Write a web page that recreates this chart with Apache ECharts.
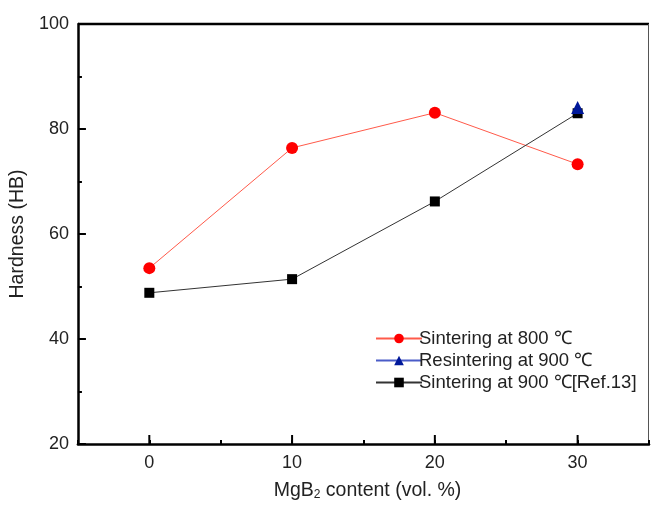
<!DOCTYPE html>
<html><head><meta charset="utf-8">
<script src="https://cdn.jsdelivr.net/npm/echarts@6/dist/echarts.min.js"></script>
<style>html,body{margin:0;padding:0;background:#fff}#c{width:652px;height:506px}</style>
</head><body><div id="c"></div>
<script>
const xValues = [0, 10, 20, 30];
const sint800 = [53.5, 76.4, 83.1, 73.3];
const resint900X = [30];
const resint900 = [84.1];
const sint900Ref = [48.8, 51.4, 66.2, 83.0];
const xMajorTicks = [0, 10, 20, 30];
const seriesNames = ['Sintering at 800 \u2103', 'Resintering at 900 \u2103', 'Sintering at 900 \u2103[Ref.13]'];

const chart = echarts.init(document.getElementById('c'), null, {renderer: 'canvas'});
const font = 'Liberation Sans';
const txt = '#222';
const opt = {
  animation: false,
  backgroundColor: '#fff',
  textStyle: {fontFamily: font},
  grid: {left: 77, right: -2, top: 24, bottom: 58, show: false},
  legend: {
    orient: 'vertical', left: 370, top: 324, itemWidth: 46, itemHeight: 12, itemGap: 3,
    textStyle: {fontFamily: font, fontSize: 18.5, color: txt, padding: [0,0,0,-8]},
    data: seriesNames
  },
  xAxis: {
    type: 'value', min: -5, max: 35, interval: 5,
    name: '{a|MgB}{s|2}{a| content (vol. %)}', nameLocation: 'middle', nameGap: 36,
    nameTextStyle: {padding: [0,0,0,8], rich: {a: {fontFamily: font, fontSize: 19.5, color: txt}, s: {fontFamily: font, fontSize: 12, color: txt, padding: [9,0,0,0]}}},
    axisLine: {show: true, onZero: false, lineStyle: {color: '#000', width: 2.5}},
    axisTick: {show: true, inside: true, length: 4, lineStyle: {color: '#000', width: 2}},
    axisLabel: {fontFamily: font, fontSize: 18, color: txt, margin: 10,
      formatter: v => (xMajorTicks.indexOf(v) >= 0 ? String(v) : '')},
    splitLine: {show: false}
  },
  yAxis: {
    type: 'value', min: 20, max: 100, interval: 20,
    name: 'Hardness (HB)', nameLocation: 'middle', nameGap: 46,
    nameTextStyle: {fontFamily: font, fontSize: 19.5, color: txt},
    axisLine: {show: true, onZero: false, lineStyle: {color: '#000', width: 2.5}},
    axisTick: {show: true, inside: true, length: 8, lineStyle: {color: '#000', width: 2}},
    minorTick: {show: true, splitNumber: 2, length: 4, lineStyle: {color: '#000', width: 2}},
    axisLabel: {fontFamily: font, fontSize: 18, color: txt, margin: 9},
    splitLine: {show: false}
  },
  series: [
    {name: seriesNames[0], type: 'line', data: xValues.map((x, i) => [x, sint800[i]]),
     symbol: 'circle', symbolSize: 12, itemStyle: {color: '#ff0000'},
     lineStyle: {color: '#ff5a4a', width: 1}, z: 3},
    {name: seriesNames[1], type: 'line', data: resint900X.map((x, i) => [x, resint900[i]]),
     symbol: 'triangle', symbolSize: 13, itemStyle: {color: '#00189a'},
     lineStyle: {color: '#4a5cc8', width: 1}, z: 6},
    {name: seriesNames[2], type: 'line', data: xValues.map((x, i) => [x, sint900Ref[i]]),
     symbol: 'rect', symbolSize: 10, itemStyle: {color: '#000'},
     lineStyle: {color: '#333', width: 1}, z: 5}
  ]
};
chart.setOption(opt);
const g = [];
const tl = chart.convertToPixel({gridIndex: 0}, [-5, 100]);
const br = chart.convertToPixel({gridIndex: 0}, [35, 20]);
g.push({type: 'line', shape: {x1: tl[0], y1: tl[1], x2: br[0], y2: tl[1]}, style: {stroke: '#000', lineWidth: 2.5}});
g.push({type: 'line', shape: {x1: br[0]-0.5, y1: tl[1], x2: br[0]-0.5, y2: br[1]}, style: {stroke: '#555', lineWidth: 1}});
xMajorTicks.forEach(v => {
  const p = chart.convertToPixel({gridIndex: 0}, [v, 20]);
  g.push({type: 'line', shape: {x1: p[0], y1: p[1], x2: p[0], y2: p[1]-9}, style: {stroke: '#000', lineWidth: 2}});
});
chart.setOption({graphic: g});
</script></body></html>
